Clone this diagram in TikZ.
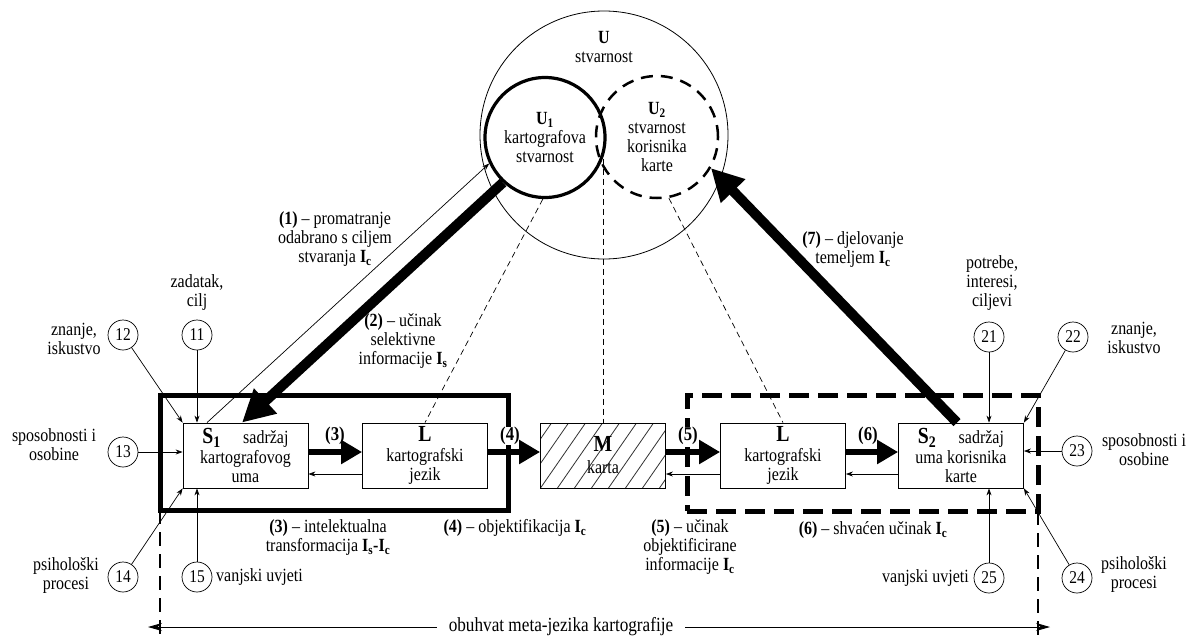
\documentclass[tikz,border=0pt]{standalone}
\usepackage{fontspec}
\setmainfont{Liberation Serif}[FakeStretch=0.86]
\usetikzlibrary{arrows.meta}
\begin{document}
\begin{tikzpicture}[x=1pt,y=-1pt,
  every node/.style={font=\fontsize{18.6}{19}\selectfont, inner sep=0pt, align=center},
  box/.style={draw, line width=0.8pt, minimum width=125pt, minimum height=65pt, fill=white},
  num/.style={draw, circle, line width=0.7pt, minimum size=30pt, fill=white, font=\fontsize{18}{18}\selectfont},
  thin/.style={line width=0.7pt, -{Stealth[length=7pt,width=5pt]}},
  thickarr/.style={line width=6pt, -{Triangle[length=21pt,width=23pt]}},
  bigarr/.style={line width=10pt, -{Triangle[length=32pt,width=32pt]}},
  frameA/.style={draw, line width=5pt, outer sep=0pt, minimum width=348pt, minimum height=115pt},
  frameB/.style={draw, line width=5pt, outer sep=0pt, dash pattern=on 20pt off 9pt, minimum width=351pt, minimum height=116pt},
  thindash/.style={line width=0.7pt, dash pattern=on 6pt off 4pt},
  longdash/.style={line width=1.2pt, dash pattern=on 14pt off 8pt},
  numlab/.style={font=\fontsize{19.5}{19.5}\selectfont\bfseries, fill=white, inner sep=0.5pt},
]
\useasboundingbox (0,0) rectangle (1193,637);
\coordinate (bot) at (0,637);

% reality circles
\node[draw, circle, line width=0.8pt, minimum size=248pt] (U) at (604,135) {};
\node (lU) at (604,47) {\textbf{U}\\stvarnost};
\node[draw, circle, line width=3.2pt, minimum size=120pt] (U1) at (545,137.5) {\textbf{U\textsubscript{1}}\\kartografova\\stvarnost};
\node[draw, circle, line width=2.5pt, dash pattern=on 12pt off 8pt, minimum size=122pt] (U2) at (657,137) {\textbf{U\textsubscript{2}}\\stvarnost\\korisnika\\karte};

% frames
\node[frameA] (F1) at (334,452.5) {};
\node[frameB] (F2) at (862.5,453) {};

% boxes
\node[box] (S1) at (245.5,455.5) {{\fontsize{23}{23}\selectfont\bfseries S\textsubscript{1}}\hspace{1.2em}sadržaj\\[1pt]kartografovog\\uma};
\node[box] (L1) at (425,455.5) {{\fontsize{23}{23}\selectfont\bfseries L}\\[1pt]kartografski\\jezik};
\node[box, path picture={\foreach \i in {-4,...,10}{\draw[line width=0.8pt, black!80] ([xshift=\i*17pt]path picture bounding box.south west) -- ++(45,-65);}}] (M) at (603,455.5) {{\fontsize{23}{23}\selectfont\bfseries M}\\[3pt]karta};
\node[box] (L2) at (783,455.5) {{\fontsize{23}{23}\selectfont\bfseries L}\\[1pt]kartografski\\jezik};
\node[box] (S2) at (961,455.5) {{\fontsize{23}{23}\selectfont\bfseries S\textsubscript{2}}\hspace{1.2em}sadržaj\\[1pt]uma korisnika\\karte};

% dashed relations
\draw[thindash] (U1.-92) -- (L1.north);
\draw[thindash] (U1.-20) -- (U1.-20 |- M.north);
\draw[thindash] (U2.-79) -- (L2.north);

% horizontal flow
\node[numlab] (n3) at (335,436) {(3)};
\node[numlab] (n4) at (510,436) {(4)};
\node[numlab] (n5) at (688,436) {(5)};
\node[numlab] (n6) at (868,436) {(6)};
\draw[thickarr] ([yshift=3.5pt]S1.east) -- ([yshift=3.5pt]L1.west);
\draw[thin] ([yshift=-18.5pt]L1.west) -- ([yshift=-18.5pt]S1.east);
\draw[thickarr] ([yshift=3.5pt]L1.east) -- ([yshift=3.5pt]M.west);
\draw[thickarr] ([yshift=3.5pt]M.east) -- ([yshift=3.5pt]L2.west);
\draw[thin] ([yshift=-18.5pt]L2.west) -- ([yshift=-18.5pt]M.east);
\draw[thickarr] ([yshift=3.5pt]L2.east) -- ([yshift=3.5pt]S2.west);
\draw[thin] ([yshift=-18.5pt]S2.west) -- ([yshift=-18.5pt]L2.east);

% big diagonal arrows
\draw[bigarr] (U1.227) -- ([xshift=-3.5pt]S1.north);
\draw[thin] ([xshift=-38.5pt]S1.north) -- (U1.205);
\draw[bigarr] ([xshift=-4pt]S2.north) -- (U2.-30);

% arrow labels
\node (a1) at (335,239) {\textbf{(1)} – promatranje\\odabrano s ciljem\\stvaranja \textbf{I\textsubscript{c}}};
\node (a2) at (403,341) {\textbf{(2)} – učinak\\selektivne\\informacije \textbf{I\textsubscript{s}}};
\node (a7) at (853,250) {\textbf{(7)} – djelovanje\\temeljem \textbf{I\textsubscript{c}}};
\node (a3) at (328,538) {\textbf{(3)} – intelektualna\\transformacija \textbf{I\textsubscript{s}-I\textsubscript{c}}};
\node (a4) at (515,528) {\textbf{(4)} – objektifikacija \textbf{I\textsubscript{c}}};
\node (a5) at (690,547) {\textbf{(5)} – učinak\\objektificirane\\informacije \textbf{I\textsubscript{c}}};
\node (a6) at (873,530) {\textbf{(6)} – shvaćen učinak \textbf{I\textsubscript{c}}};

% left influences
\node[num] (c11) at (197,335) {11};
\node[num] (c12) at (123,335) {12};
\node[num] (c13) at (123,452) {13};
\node[num] (c14) at (123,577) {14};
\node[num] (c15) at (197,577) {15};
\draw[thin] (c11) -- (c11 |- S1.north);
\draw[thin] (c12) -- (S1.north west);
\draw[thin] (c13) -- (c13 -| S1.west);
\draw[thin] (c14) -- (S1.south west);
\draw[thin] (c15) -- (c15 |- S1.south);
\node (t11) at (197,293) {zadatak,\\cilj};
\node (t12) at (74,339) {znanje,\\iskustvo};
\node (t13) at (54,445) {sposobnosti i\\osobine};
\node (t14) at (66,576) {psihološki\\procesi};
\node[anchor=west] (t15) at (216,577) {vanjski uvjeti};

% right influences
\node[num] (c21) at (989,337) {21};
\node[num] (c22) at (1073,337) {22};
\node[num] (c23) at (1077,451) {23};
\node[num] (c24) at (1077,578) {24};
\node[num] (c25) at (989,578) {25};
\draw[thin] (c21) -- (c21 |- S2.north);
\draw[thin] (c22) -- (S2.north east);
\draw[thin] (c23) -- (c23 -| S2.east);
\draw[thin] (c24) -- (S2.south east);
\draw[thin] (c25) -- (c25 |- S2.south);
\node (t21) at (992,283) {potrebe,\\interesi,\\ciljevi};
\node (t22) at (1134,338) {znanje,\\iskustvo};
\node (t23) at (1144,450) {sposobnosti i\\osobine};
\node (t24) at (1134,574) {psihološki\\procesi};
\node[anchor=east] (t25) at (969,578) {vanjski uvjeti};

% meta-language scope
\draw[longdash] (F1.south west) -- (F1.south west |- bot);
\draw[longdash] (F2.south east) -- (F2.south east |- bot);
\node[font=\fontsize{20}{20}\selectfont] (T) at (561,627) {obuhvat meta-jezika kartografije};
\draw[line width=0.9pt, -{Stealth[length=14pt,width=8pt]}] ([xshift=-12pt]T.west) -- ([xshift=-12pt]T.west -| F1.south west);
\draw[line width=0.9pt, -{Stealth[length=14pt,width=8pt]}] ([xshift=12pt]T.east) -- ([xshift=12pt]T.east -| F2.south east);
\end{tikzpicture}
\end{document}
